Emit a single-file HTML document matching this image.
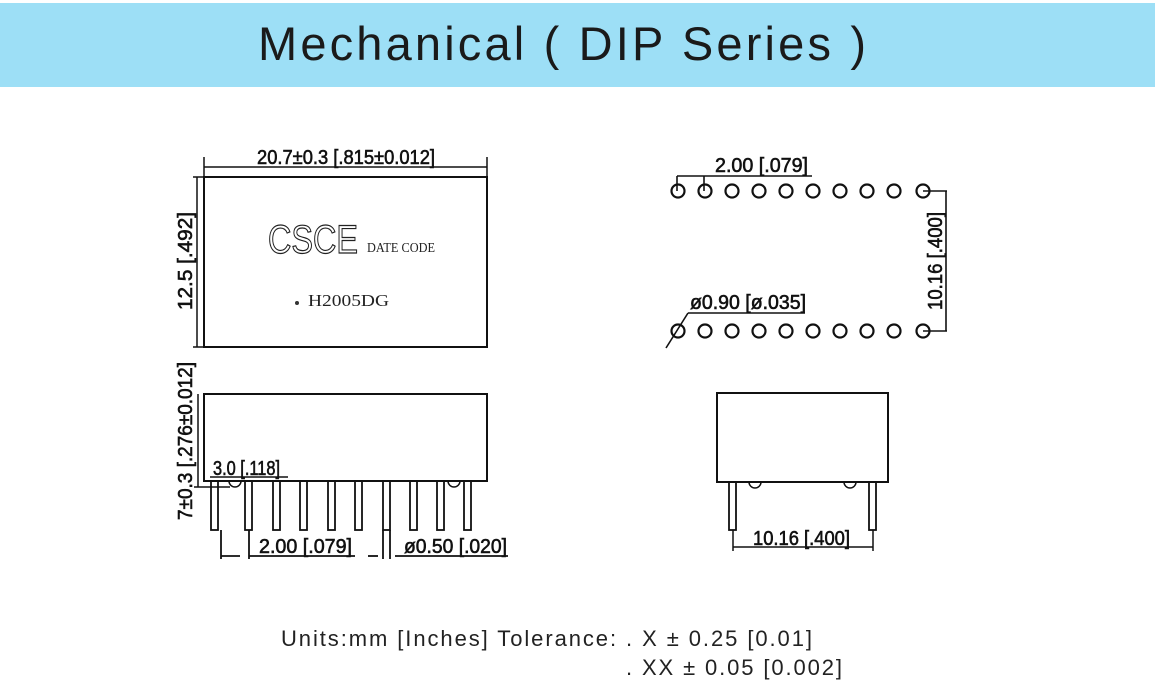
<!DOCTYPE html>
<html><head><meta charset="utf-8"><style>
html,body{margin:0;padding:0;background:#fff;width:1155px;height:700px;overflow:hidden}
svg{display:block}
.d{font-family:"Liberation Sans",sans-serif;font-size:20px;fill:#111;stroke:#111;stroke-width:0.6}
.s{font-family:"Liberation Serif",serif;fill:#222}
</style></head><body>
<svg width="1155" height="700" viewBox="0 0 1155 700" xmlns="http://www.w3.org/2000/svg">
<rect x="0" y="3" width="1155" height="84" fill="#9ddff6"/>
<text x="258" y="60" font-family="Liberation Sans,sans-serif" font-size="47" fill="#1a1a1a" textLength="608" lengthAdjust="spacing">Mechanical ( DIP  Series )</text>

<g stroke="#111" fill="none" stroke-width="2">
<rect x="204" y="177" width="283" height="170"/>
<line x1="204" y1="167" x2="487" y2="167" stroke-width="1.5"/>
<line x1="204" y1="157" x2="204" y2="177" stroke-width="1.5"/>
<line x1="487" y1="157" x2="487" y2="177" stroke-width="1.5"/>
<line x1="197" y1="177" x2="197" y2="347" stroke-width="1.5"/>
<line x1="193" y1="177" x2="204" y2="177" stroke-width="1.5"/>
<line x1="193" y1="347" x2="204" y2="347" stroke-width="1.5"/>
<rect x="204" y="394" width="283" height="87"/>
<line x1="198" y1="394" x2="198" y2="487" stroke-width="1.5"/>
<line x1="194" y1="487" x2="230" y2="487" stroke-width="1.5"/>
<line x1="210" y1="477" x2="288" y2="477" stroke-width="1.5"/>
<path d="M229 481 a6 6 0 0 0 12 0 M448 481 a6 6 0 0 0 12 0" stroke-width="1.5"/>
<g stroke-width="1.8">
<rect x="211" y="481" width="7" height="49"/>
<rect x="245" y="481" width="7" height="49"/>
<rect x="273" y="481" width="7" height="49"/>
<rect x="300" y="481" width="7" height="49"/>
<rect x="328" y="481" width="7" height="49"/>
<rect x="355" y="481" width="7" height="49"/>
<rect x="383" y="481" width="7" height="49"/>
<rect x="410" y="481" width="7" height="49"/>
<rect x="437" y="481" width="7" height="49"/>
<rect x="464" y="481" width="7" height="49"/>
<line x1="221" y1="530" x2="221" y2="559"/>
<line x1="249" y1="530" x2="249" y2="559"/>
<line x1="383" y1="530" x2="383" y2="559"/>
<line x1="390" y1="530" x2="390" y2="559"/>
<line x1="221" y1="556" x2="240" y2="556"/>
<line x1="249" y1="556" x2="355" y2="556"/>
<line x1="368" y1="556" x2="378" y2="556"/>
<line x1="395" y1="556" x2="508" y2="556"/>
</g>
<g stroke-width="2.2">
<circle cx="678" cy="191" r="6.5"/><circle cx="705" cy="191" r="6.5"/><circle cx="732" cy="191" r="6.5"/><circle cx="759" cy="191" r="6.5"/><circle cx="786" cy="191" r="6.5"/><circle cx="813" cy="191" r="6.5"/><circle cx="840" cy="191" r="6.5"/><circle cx="867" cy="191" r="6.5"/><circle cx="894" cy="191" r="6.5"/><circle cx="923" cy="191" r="6.5"/>
<circle cx="678" cy="331" r="6.5"/><circle cx="705" cy="331" r="6.5"/><circle cx="732" cy="331" r="6.5"/><circle cx="759" cy="331" r="6.5"/><circle cx="786" cy="331" r="6.5"/><circle cx="813" cy="331" r="6.5"/><circle cx="840" cy="331" r="6.5"/><circle cx="867" cy="331" r="6.5"/><circle cx="894" cy="331" r="6.5"/><circle cx="923" cy="331" r="6.5"/>
</g>
<g stroke-width="1.6">
<line x1="677" y1="176" x2="812" y2="176"/>
<line x1="677" y1="176" x2="677" y2="191"/>
<line x1="704" y1="176" x2="704" y2="191"/>
<line x1="923" y1="191" x2="947" y2="191"/>
<line x1="923" y1="331" x2="947" y2="331"/>
<line x1="946" y1="191" x2="946" y2="331"/>
<line x1="688" y1="313" x2="805" y2="313"/>
<line x1="688" y1="313" x2="666" y2="348"/>
</g>
<rect x="717" y="393" width="171" height="89"/>
<path d="M749 482 a6 6 0 0 0 12 0 M844 482 a6 6 0 0 0 12 0" stroke-width="1.5"/>
<rect x="729" y="482" width="7" height="48" stroke-width="1.8"/>
<rect x="869" y="482" width="7" height="48" stroke-width="1.8"/>
<line x1="733" y1="530" x2="733" y2="551" stroke-width="1.5"/>
<line x1="873" y1="530" x2="873" y2="551" stroke-width="1.5"/>
<line x1="733" y1="547" x2="873" y2="547" stroke-width="1.5"/>
</g>

<text class="d" x="257" y="164" textLength="178" lengthAdjust="spacingAndGlyphs">20.7±0.3 [.815±0.012]</text>
<text class="d" transform="translate(192,310) rotate(-90)" textLength="98" lengthAdjust="spacingAndGlyphs">12.5 [.492]</text>
<text x="268" y="253" font-family="Liberation Sans,sans-serif" font-size="40" fill="#fff" stroke="#222" stroke-width="1.2" textLength="90" lengthAdjust="spacingAndGlyphs">CSCE</text>
<text class="s" x="367" y="252" font-size="14" textLength="68" lengthAdjust="spacingAndGlyphs">DATE CODE</text>
<circle cx="297" cy="303" r="2" fill="#333"/>
<text class="s" x="308" y="306" font-size="17" textLength="81" lengthAdjust="spacingAndGlyphs">H2005DG</text>
<text class="d" transform="translate(192,520) rotate(-90)" textLength="158" lengthAdjust="spacingAndGlyphs">7±0.3 [.276±0.012]</text>
<text class="d" x="213" y="475" textLength="67" lengthAdjust="spacingAndGlyphs">3.0 [.118]</text>
<text class="d" x="259" y="553" textLength="93" lengthAdjust="spacingAndGlyphs">2.00 [.079]</text>
<text class="d" x="404" y="553" textLength="103" lengthAdjust="spacingAndGlyphs">ø0.50 [.020]</text>
<text class="d" x="715" y="172" textLength="93" lengthAdjust="spacingAndGlyphs">2.00 [.079]</text>
<text class="d" x="690" y="309" textLength="116" lengthAdjust="spacingAndGlyphs">ø0.90 [ø.035]</text>
<text class="d" transform="translate(942,310) rotate(-90)" textLength="98" lengthAdjust="spacingAndGlyphs">10.16 [.400]</text>
<text class="d" x="753" y="545" textLength="97" lengthAdjust="spacingAndGlyphs">10.16 [.400]</text>

<text x="281" y="646" font-family="Liberation Sans,sans-serif" font-size="22" fill="#222" textLength="531" lengthAdjust="spacing">Units:mm [Inches] Tolerance: . X  ± 0.25 [0.01]</text>
<text x="626" y="675" font-family="Liberation Sans,sans-serif" font-size="22" fill="#222" textLength="216" lengthAdjust="spacing">. XX  ± 0.05 [0.002]</text>
</svg>
</body></html>
